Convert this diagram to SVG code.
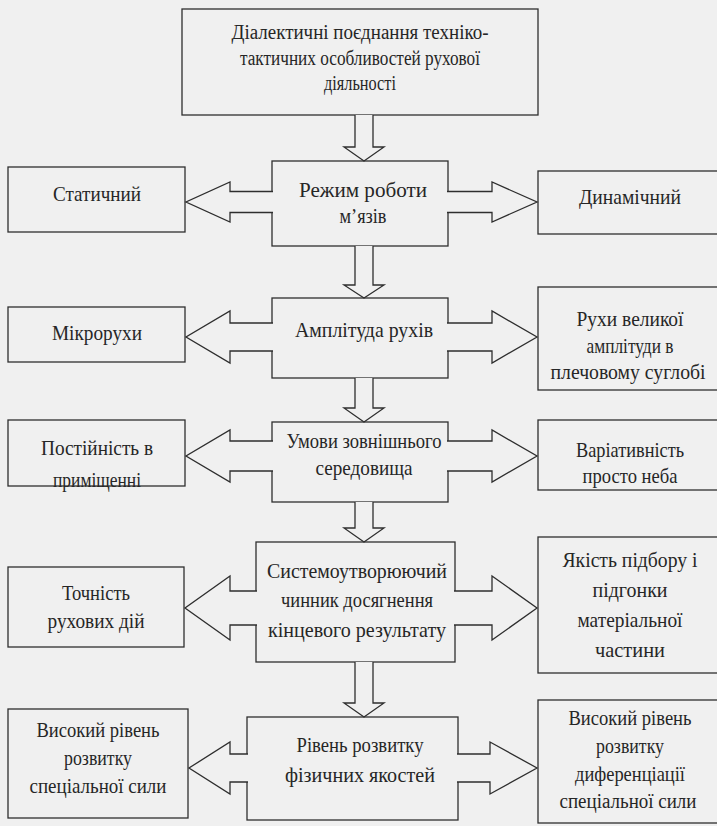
<svg xmlns="http://www.w3.org/2000/svg" width="717" height="826" viewBox="0 0 717 826">
<style>
.bg{fill:#f0f0f0}
.box{fill:#f0f0f0;stroke:#2e2e2e;stroke-width:1.3}
.arr{fill:#f0f0f0;stroke:#2e2e2e;stroke-width:1.3;stroke-linejoin:miter}
text{font-family:'Liberation Serif','Times New Roman','DejaVu Serif',serif;font-size:22px;fill:#262626;text-anchor:middle}
.sm{font-size:20px}
.nr{font-size:20px}
</style>
<rect class="bg" x="0" y="0" width="717" height="826"/>
<g id="nodes" font-family="Liberation Serif, Times New Roman, serif">
<g id="n-top"><rect class="box" x="182" y="9" width="356" height="106"/>
<text class="sm" x="360" y="39" textLength="257" lengthAdjust="spacingAndGlyphs">Діалектичні поєднання техніко-</text>
<text class="sm" x="360" y="65" textLength="240" lengthAdjust="spacingAndGlyphs">тактичних особливостей рухової</text>
<text class="sm" x="360" y="90" textLength="72" lengthAdjust="spacingAndGlyphs">діяльності</text></g>
<g id="n-regime"><rect class="box" x="272" y="161" width="176" height="85"/>
<text x="363" y="197" textLength="128" lengthAdjust="spacingAndGlyphs">Режим роботи</text>
<text x="363" y="223" textLength="47" lengthAdjust="spacingAndGlyphs">м’язів</text></g>
<g id="n-static"><rect class="box" x="8" y="167" width="177" height="65"/>
<text x="97" y="201" textLength="88" lengthAdjust="spacingAndGlyphs">Статичний</text></g>
<g id="n-dynamic"><rect class="box" x="538" y="171" width="185" height="63"/>
<text x="630" y="204" textLength="102" lengthAdjust="spacingAndGlyphs">Динамічний</text></g>
<g id="n-amplitude"><rect class="box" x="272" y="298" width="176" height="80"/>
<text x="364" y="337" textLength="138" lengthAdjust="spacingAndGlyphs">Амплітуда рухів</text></g>
<g id="n-micro"><rect class="box" x="8" y="307" width="177" height="55"/>
<text x="97" y="340" textLength="90" lengthAdjust="spacingAndGlyphs">Мікрорухи</text></g>
<g id="n-large"><rect class="box" x="538" y="287" width="185" height="103"/>
<text x="630" y="326" textLength="107" lengthAdjust="spacingAndGlyphs">Рухи великої</text>
<text x="630" y="353" textLength="87" lengthAdjust="spacingAndGlyphs">амплітуди в</text>
<text class="nr" x="628" y="379" textLength="155" lengthAdjust="spacingAndGlyphs">плечовому суглобі</text></g>
<g id="n-env"><rect class="box" x="272" y="422" width="176" height="80"/>
<text x="364" y="448" textLength="155" lengthAdjust="spacingAndGlyphs">Умови зовнішнього</text>
<text x="364" y="475" textLength="97" lengthAdjust="spacingAndGlyphs">середовища</text></g>
<g id="n-const"><rect class="box" x="8" y="420" width="177" height="66"/>
<text x="97" y="455" textLength="112" lengthAdjust="spacingAndGlyphs">Постійність в</text>
<text x="97" y="487" textLength="88" lengthAdjust="spacingAndGlyphs">приміщенні</text></g>
<g id="n-var"><rect class="box" x="538" y="420" width="185" height="70"/>
<text x="630" y="457" textLength="108" lengthAdjust="spacingAndGlyphs">Варіативність</text>
<text x="630" y="483" textLength="95" lengthAdjust="spacingAndGlyphs">просто неба</text></g>
<g id="n-system"><rect class="box" x="256" y="542" width="199" height="120"/>
<text x="357" y="578" textLength="180" lengthAdjust="spacingAndGlyphs">Системоутворюючий</text>
<text x="357" y="607" textLength="152" lengthAdjust="spacingAndGlyphs">чинник досягнення</text>
<text x="357" y="637" textLength="178" lengthAdjust="spacingAndGlyphs">кінцевого результату</text></g>
<g id="n-accuracy"><rect class="box" x="8" y="567" width="176" height="80"/>
<text x="96" y="600" textLength="68" lengthAdjust="spacingAndGlyphs">Точність</text>
<text x="96" y="628" textLength="97" lengthAdjust="spacingAndGlyphs">рухових дій</text></g>
<g id="n-quality"><rect class="box" x="538" y="537" width="185" height="136"/>
<text x="630" y="567" textLength="135" lengthAdjust="spacingAndGlyphs">Якість підбору і</text>
<text x="630" y="597" textLength="75" lengthAdjust="spacingAndGlyphs">підгонки</text>
<text x="630" y="627" textLength="105" lengthAdjust="spacingAndGlyphs">матеріальної</text>
<text x="630" y="657" textLength="70" lengthAdjust="spacingAndGlyphs">частини</text></g>
<g id="n-physical"><rect class="box" x="247" y="717" width="211" height="103"/>
<text x="360" y="752" textLength="127" lengthAdjust="spacingAndGlyphs">Рівень розвитку</text>
<text x="360" y="782" textLength="150" lengthAdjust="spacingAndGlyphs">фізичних якостей</text></g>
<g id="n-strength"><rect class="box" x="8" y="709" width="180" height="109"/>
<text x="98" y="737" textLength="123" lengthAdjust="spacingAndGlyphs">Високий рівень</text>
<text x="98" y="765" textLength="68" lengthAdjust="spacingAndGlyphs">розвитку</text>
<text x="98" y="793" textLength="137" lengthAdjust="spacingAndGlyphs">спеціальної сили</text></g>
<g id="n-diff"><rect class="box" x="538" y="700" width="185" height="123"/>
<text x="630" y="725" textLength="123" lengthAdjust="spacingAndGlyphs">Високий рівень</text>
<text x="630" y="753" textLength="68" lengthAdjust="spacingAndGlyphs">розвитку</text>
<text x="630" y="781" textLength="110" lengthAdjust="spacingAndGlyphs">диференціації</text>
<text class="nr" x="628" y="808" textLength="137" lengthAdjust="spacingAndGlyphs">спеціальної сили</text></g>
</g>
<g id="connectors">
<path class="arr" d="M355 115 V147 H344 L364 161 L384 147 H373 V115"/>
<path class="arr" d="M355 246 V285 H344 L364 298 L384 285 H373 V246"/>
<path class="arr" d="M355 378 V408 H344 L364 422 L384 408 H373 V378"/>
<path class="arr" d="M355 502 V528 H344 L364 542 L384 528 H373 V502"/>
<path class="arr" d="M355 662 V703 H344 L364 717 L384 703 H373 V662"/>
<path class="arr" d="M273 191.5 H230 V182 L186 202 L230 222 V212.5 H273"/>
<path class="arr" d="M447 191.5 H492 V182 L537 202 L492 222 V212.5 H447"/>
<path class="arr" d="M273 323 H230 V311 L186 337 L230 363 V351 H273"/>
<path class="arr" d="M447 323 H492 V311 L537 337 L492 363 V351 H447"/>
<path class="arr" d="M273 441 H230 V430 L186 456 L230 482 V471 H273"/>
<path class="arr" d="M447 441 H492 V430 L537 456 L492 482 V471 H447"/>
<path class="arr" d="M257 591 H230 V576 L185 608 L230 640 V625 H257"/>
<path class="arr" d="M454 591 H492 V576 L537 608 L492 640 V625 H454"/>
<path class="arr" d="M248 754 H230 V742 L189 768 L230 794 V782 H248"/>
<path class="arr" d="M457 754 H490 V742 L537 768 L490 794 V782 H457"/>
</g>
</svg>
